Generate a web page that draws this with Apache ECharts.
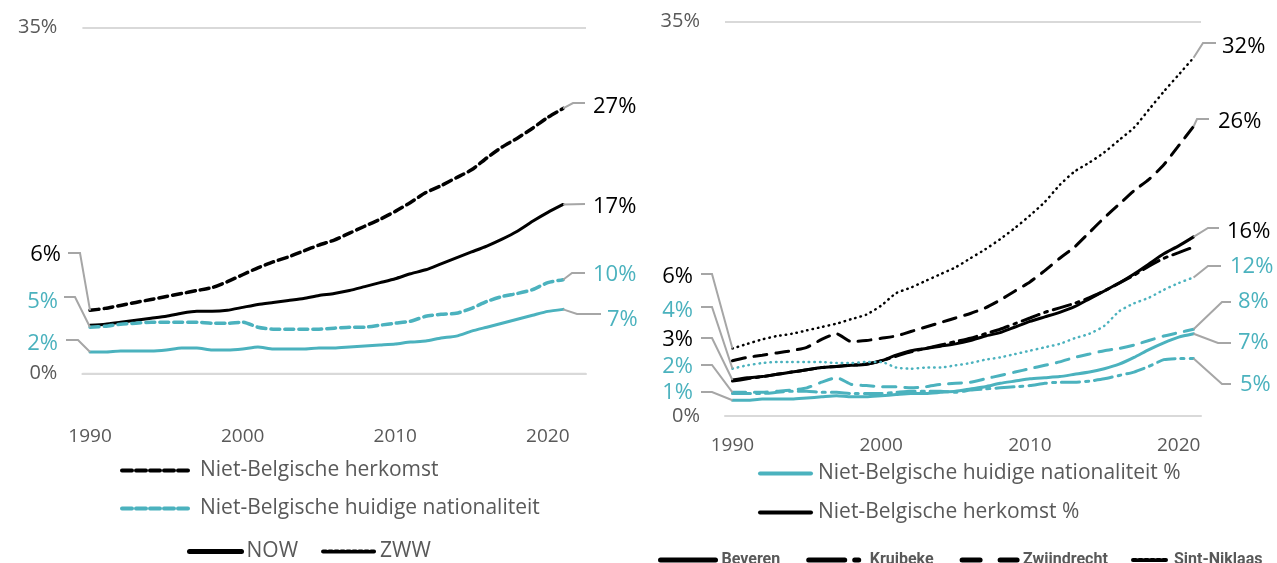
<!DOCTYPE html>
<html><head><meta charset="utf-8">
<script src="https://cdn.jsdelivr.net/npm/echarts@6/dist/echarts.min.js"></script>
<style>html,body{margin:0;padding:0;background:#fff;}#c{width:1277px;height:563px;}</style>
</head><body><div id="c"></div>
<script>
// ---------- categories ----------
const yearsLeft = ['1990','1991','1992','1993','1994','1995','1996','1997','1998','1999','2000','2001','2002','2003','2004','2005','2006','2007','2008','2009','2010','2011','2012','2013','2014','2015','2016','2017','2018','2019','2020','2021','2022'];
const yearsRight = ['1990','1991','1992','1993','1994','1995','1996','1997','1998','1999','2000','2001','2002','2003','2004','2005','2006','2007','2008','2009','2010','2011','2012','2013','2014','2015','2016','2017','2018','2019','2020','2021'];
const xTickYears = ['1990','2000','2010','2020'];
const yTicks = [0, 35];

// ---------- left panel series (%), 1990-2021 ----------
const zwwHerkomst = [6.4,6.6,6.9,7.2,7.5,7.8,8.1,8.4,8.7,9.3,10.0,10.7,11.3,11.8,12.4,13.0,13.5,14.2,14.9,15.6,16.4,17.3,18.3,19.0,19.8,20.6,21.8,22.9,23.8,24.8,25.9,26.8];
const nowHerkomst = [4.9,5.0,5.2,5.4,5.6,5.8,6.1,6.3,6.3,6.4,6.7,7.0,7.2,7.4,7.6,7.9,8.1,8.4,8.8,9.2,9.6,10.1,10.5,11.1,11.7,12.3,12.9,13.6,14.4,15.4,16.3,17.1];
const zwwNationaliteit = [4.7,4.8,5.0,5.1,5.2,5.2,5.2,5.2,5.1,5.1,5.2,4.7,4.5,4.5,4.5,4.5,4.6,4.7,4.7,4.9,5.1,5.3,5.8,6.0,6.1,6.6,7.3,7.8,8.1,8.5,9.2,9.5];
const nowNationaliteit = [2.2,2.2,2.3,2.3,2.3,2.4,2.6,2.6,2.4,2.4,2.5,2.7,2.5,2.5,2.5,2.6,2.6,2.7,2.8,2.9,3.0,3.2,3.3,3.6,3.8,4.3,4.7,5.1,5.5,5.9,6.3,6.5];

// ---------- right panel series (%), 1990-2021 ----------
const beverenHerkomst = [3.2,3.4,3.5,3.7,3.9,4.1,4.3,4.4,4.5,4.6,4.9,5.4,5.8,6.0,6.2,6.4,6.7,7.1,7.4,7.9,8.4,8.8,9.2,9.7,10.4,11.1,11.8,12.6,13.5,14.4,15.1,15.9];
const kruibekeHerkomst = [3.1,3.3,3.5,3.7,3.9,4.1,4.3,4.4,4.5,4.6,4.9,5.3,5.7,6.0,6.3,6.6,6.9,7.3,7.7,8.2,8.7,9.2,9.6,10.0,10.5,11.1,11.8,12.5,13.3,14.0,14.5,15.0];
const zwijndrechtHerkomst = [4.9,5.2,5.4,5.6,5.8,6.1,6.8,7.3,6.6,6.7,6.9,7.1,7.5,7.9,8.3,8.7,9.1,9.6,10.3,11.1,11.9,12.9,14.0,15.0,16.3,17.6,18.8,20.0,21.0,22.3,24.0,25.7];
const sintNiklaasHerkomst = [6.0,6.4,6.8,7.1,7.3,7.6,7.9,8.2,8.6,9.0,9.8,10.9,11.4,12.0,12.6,13.2,14.0,14.8,15.7,16.7,17.8,19.0,20.5,21.7,22.5,23.4,24.5,25.6,27.2,28.8,30.3,31.8];
const beverenNationaliteit = [1.4,1.4,1.5,1.5,1.5,1.6,1.7,1.8,1.7,1.7,1.8,1.9,2.0,2.0,2.1,2.2,2.4,2.6,2.9,3.1,3.3,3.4,3.5,3.7,3.9,4.2,4.6,5.2,5.9,6.5,7.0,7.3];
const kruibekeNationaliteit = [2.0,2.0,2.0,2.1,2.2,2.2,2.1,2.1,2.0,2.0,2.0,2.1,2.2,2.2,2.2,2.1,2.3,2.4,2.5,2.6,2.7,2.9,3.0,3.0,3.1,3.3,3.6,3.9,4.4,5.0,5.1,5.1];
const zwijndrechtNationaliteit = [2.1,2.1,2.1,2.2,2.3,2.5,3.0,3.4,2.8,2.7,2.6,2.6,2.5,2.6,2.8,2.9,3.0,3.3,3.6,3.9,4.2,4.5,4.8,5.2,5.5,5.8,6.0,6.3,6.7,7.1,7.4,7.7];
const sintNiklaasNationaliteit = [4.2,4.5,4.7,4.8,4.8,4.8,4.8,4.7,4.7,4.8,4.8,4.3,4.2,4.3,4.3,4.5,4.7,5.0,5.2,5.5,5.8,6.1,6.4,6.9,7.3,8.0,9.3,10.0,10.5,11.2,11.8,12.3];

// ---------- styles ----------
const BLACK = '#000000';
const TEAL = '#4BB2BE';
const GREY_TXT = '#595959';
const GRID_LINE = '#D9D9D9';
const LEADER = '#A6A6A6';
const FONT = "'Open Sans', 'Noto Sans', sans-serif";

const chart = echarts.init(document.getElementById('c'), null, {renderer: 'canvas'});

function ln(name, data, color, width, type, g) {
  return {
    type: 'line', name: name, data: data, xAxisIndex: g, yAxisIndex: g,
    symbol: 'none', smooth: 0.2, silent: true,
    lineStyle: {color: color, width: width, type: type, cap: 'round'},
    itemStyle: {color: color}
  };
}

const DASH_L = [9, 5];
const DASH_ZW = [13, 9];
const DASH_KR = [18, 6, 3, 6];
const DOT = [0.5, 5];

function yAxis(g) {
  return {
    type: 'value', gridIndex: g, min: yTicks[0], max: yTicks[1], interval: yTicks[1] - yTicks[0],
    axisLine: {show: false}, axisTick: {show: false},
    splitLine: {show: true, showMinLine: true, showMaxLine: true, lineStyle: {color: GRID_LINE, width: 2}},
    axisLabel: {formatter: v => v + '%', color: GREY_TXT, fontSize: 20, fontFamily: FONT, margin: 25}
  };
}
function xAxis(g, cats, margin) {
  return {
    type: 'category', gridIndex: g, data: cats, boundaryGap: true,
    axisLine: {show: true, onZero: false, lineStyle: {color: GRID_LINE, width: 2}}, axisTick: {show: false},
    axisLabel: {interval: (i, v) => xTickYears.includes(v), color: GREY_TXT, fontSize: 19, fontFamily: FONT, margin: margin}
  };
}

function legend(names, left, top, itemWidth, gap, fontSize, bold, pad) {
  return {
    left: left, top: top, orient: 'horizontal', selectedMode: false,
    itemWidth: itemWidth, itemHeight: 14, itemGap: gap, padding: 0,
    itemStyle: {opacity: 0, borderWidth: 0},
    data: names,
    textStyle: {color: GREY_TXT, fontSize: fontSize, fontFamily: bold ? "'Liberation Sans Narrow', 'Roboto', sans-serif" : FONT,
      fontWeight: bold ? 'bold' : 'normal', padding: [0, 0, 0, pad], lineHeight: fontSize + 4}
  };
}

const grids = [
  {left: 82.4, right: 691, top: 27.3, bottom: 189.3},
  {left: 725, right: 76, top: 21.7, bottom: 147}
];

const option = {
  animation: false,
  backgroundColor: '#ffffff',
  grid: grids,
  xAxis: [xAxis(0, yearsLeft, 53), xAxis(1, yearsRight, 20)],
  yAxis: [yAxis(0), yAxis(1)],
  legend: [
    legend([{name: 'Niet-Belgische herkomst', lineStyle: {width: 4, type: [10, 4]}}], 120, 458, 69, 10, 21, false, 4),
    legend([{name: 'Niet-Belgische huidige nationaliteit', lineStyle: {width: 4, type: [10, 4]}}], 120, 496, 69, 10, 21, false, 4),
    legend([{name: 'NOW', lineStyle: {width: 5, type: 'solid'}}, {name: 'ZWW', lineStyle: {width: 4, type: [3, 3]}}], 187, 539, 52, 23, 21, false, 0),
    legend([{name: 'Niet-Belgische huidige nationaliteit %', lineStyle: {width: 4}}], 758, 461, 51, 10, 21, false, 2),
    legend([{name: 'Niet-Belgische herkomst %', lineStyle: {width: 4}}], 758, 500, 51, 10, 21, false, 2),
    legend([
      {name: 'Beveren', lineStyle: {width: 5, type: 'solid'}},
      {name: 'Kruibeke', lineStyle: {width: 5, type: [36, 10, 4, 10]}},
      {name: 'Zwijndrecht', lineStyle: {width: 5, type: [18, 20]}}
    ], 658, 550, 55, 26, 16, true, 1),
    Object.assign(legend([{name: 'Sint-Niklaas', lineStyle: {width: 4, type: [3, 3]}}], 1131, 550, 36, 10, 16, true, 0), {width: 200})
  ],
  series: [
    ln('Niet-Belgische herkomst', zwwHerkomst, BLACK, 3.5, DASH_L, 0),
    ln('NOW', nowHerkomst, BLACK, 3, 'solid', 0),
    ln('Niet-Belgische huidige nationaliteit', zwwNationaliteit, TEAL, 3.5, DASH_L, 0),
    ln('NOW nationaliteit', nowNationaliteit, TEAL, 3, 'solid', 0),
    ln('ZWW', [], BLACK, 3, DOT, 0),
    ln('Niet-Belgische huidige nationaliteit %', [], TEAL, 3, 'solid', 1),
    ln('Niet-Belgische herkomst %', [], BLACK, 3, 'solid', 1),
    ln('Sint-Niklaas', sintNiklaasHerkomst, BLACK, 2.5, DOT, 1),
    ln('Zwijndrecht', zwijndrechtHerkomst, BLACK, 3, DASH_ZW, 1),
    ln('Kruibeke', kruibekeHerkomst, BLACK, 3, DASH_KR, 1),
    ln('Beveren', beverenHerkomst, BLACK, 3, 'solid', 1),
    ln('Sint-Niklaas nationaliteit', sintNiklaasNationaliteit, TEAL, 2.5, DOT, 1),
    ln('Zwijndrecht nationaliteit', zwijndrechtNationaliteit, TEAL, 3, DASH_ZW, 1),
    ln('Kruibeke nationaliteit', kruibekeNationaliteit, TEAL, 3, DASH_KR, 1),
    ln('Beveren nationaliteit', beverenNationaliteit, TEAL, 3, 'solid', 1)
  ]
};
chart.setOption(option);

// ---------- value labels with leader lines (label layout only; anchors come from the axes) ----------
const labelTexts = {
  leftStart: ['6%', '5%', '2%'], leftEnd: ['27%', '17%', '10%', '7%'],
  rightStart: ['6%', '4%', '3%', '2%', '1%'], rightEnd: ['32%', '26%', '16%', '12%', '8%', '7%', '5%']
};
const annotations = [
  {g: 0, cats: yearsLeft, s: zwwHerkomst, end: false, text: labelTexts.leftStart[0], color: BLACK, tx: 61, ty: 255, knee: [[80, 253], [68, 253]]},
  {g: 0, cats: yearsLeft, s: zwwNationaliteit, end: false, text: labelTexts.leftStart[1], color: TEAL, tx: 58, ty: 302, knee: [[75, 297], [64, 297]]},
  {g: 0, cats: yearsLeft, s: nowNationaliteit, end: false, text: labelTexts.leftStart[2], color: TEAL, tx: 58, ty: 344, knee: [[78, 340], [66, 340]]},
  {g: 0, cats: yearsLeft, s: zwwHerkomst, end: true, text: labelTexts.leftEnd[0], color: BLACK, tx: 593, ty: 107, knee: [[573, 103], [585, 103]]},
  {g: 0, cats: yearsLeft, s: nowHerkomst, end: true, text: labelTexts.leftEnd[1], color: BLACK, tx: 593, ty: 207, knee: [[585, 204]]},
  {g: 0, cats: yearsLeft, s: zwwNationaliteit, end: true, text: labelTexts.leftEnd[2], color: TEAL, tx: 593, ty: 275, knee: [[572, 273], [585, 273]]},
  {g: 0, cats: yearsLeft, s: nowNationaliteit, end: true, text: labelTexts.leftEnd[3], color: TEAL, tx: 607, ty: 320, knee: [[577, 314], [601, 314]]},
  {g: 1, cats: yearsRight, s: sintNiklaasHerkomst, end: false, text: labelTexts.rightStart[0], color: BLACK, tx: 693, ty: 277, knee: [[712, 274], [701, 274]]},
  {g: 1, cats: yearsRight, s: sintNiklaasNationaliteit, end: false, text: labelTexts.rightStart[1], color: TEAL, tx: 693, ty: 311, knee: [[712, 307], [701, 307]]},
  {g: 1, cats: yearsRight, s: beverenHerkomst, end: false, text: labelTexts.rightStart[2], color: BLACK, tx: 693, ty: 340, knee: [[712, 338], [701, 338]]},
  {g: 1, cats: yearsRight, s: zwijndrechtNationaliteit, end: false, text: labelTexts.rightStart[3], color: TEAL, tx: 693, ty: 367, knee: [[712, 365], [701, 365]]},
  {g: 1, cats: yearsRight, s: beverenNationaliteit, end: false, text: labelTexts.rightStart[4], color: TEAL, tx: 693, ty: 393, knee: [[712, 392], [701, 392]]},
  {g: 1, cats: yearsRight, s: sintNiklaasHerkomst, end: true, text: labelTexts.rightEnd[0], color: BLACK, tx: 1222, ty: 47, knee: [[1203, 43], [1216, 43]]},
  {g: 1, cats: yearsRight, s: zwijndrechtHerkomst, end: true, text: labelTexts.rightEnd[1], color: BLACK, tx: 1218, ty: 122, knee: [[1197, 119], [1209, 119]]},
  {g: 1, cats: yearsRight, s: beverenHerkomst, end: true, text: labelTexts.rightEnd[2], color: BLACK, tx: 1227, ty: 232, knee: [[1208, 228], [1219, 228]]},
  {g: 1, cats: yearsRight, s: sintNiklaasNationaliteit, end: true, text: labelTexts.rightEnd[3], color: TEAL, tx: 1230, ty: 267, knee: [[1208, 266], [1221, 266]]},
  {g: 1, cats: yearsRight, s: zwijndrechtNationaliteit, end: true, text: labelTexts.rightEnd[4], color: TEAL, tx: 1238, ty: 302, knee: [[1222, 302], [1231, 302]]},
  {g: 1, cats: yearsRight, s: beverenNationaliteit, end: true, text: labelTexts.rightEnd[5], color: TEAL, tx: 1238, ty: 343, knee: [[1218, 343], [1231, 343]]},
  {g: 1, cats: yearsRight, s: kruibekeNationaliteit, end: true, text: labelTexts.rightEnd[6], color: TEAL, tx: 1240, ty: 385, knee: [[1222, 384], [1231, 384]]}
];

const graphics = [];
// 0% baseline of each panel, placed through the y axis scale
grids.forEach((gr, g) => {
  const cats = g === 0 ? yearsLeft : yearsRight;
  const y0 = chart.convertToPixel({gridIndex: g}, [cats[0], yTicks[0]])[1];
  graphics.push({
    type: 'line', silent: true, z: 1,
    shape: {x1: gr.left, y1: y0, x2: 1277 - gr.right, y2: y0},
    style: {stroke: GRID_LINE, lineWidth: 2}
  });
});
annotations.forEach(a => {
  const i = a.end ? a.s.length - 1 : 0;
  const p = chart.convertToPixel({gridIndex: a.g}, [a.cats[i], a.s[i]]);
  graphics.push({
    type: 'polyline', silent: true, z: 5,
    shape: {points: [p].concat(a.knee)},
    style: {stroke: LEADER, lineWidth: 2, fill: null}
  });
  graphics.push({
    type: 'text', silent: true, z: 6, x: a.tx, y: a.ty,
    style: {text: a.text, fill: a.color, font: '22px ' + FONT,
      textAlign: a.end ? 'left' : 'right', textVerticalAlign: 'middle',
      align: a.end ? 'left' : 'right', verticalAlign: 'middle'}
  });
});
chart.setOption({graphic: graphics});
</script>
</body></html>
